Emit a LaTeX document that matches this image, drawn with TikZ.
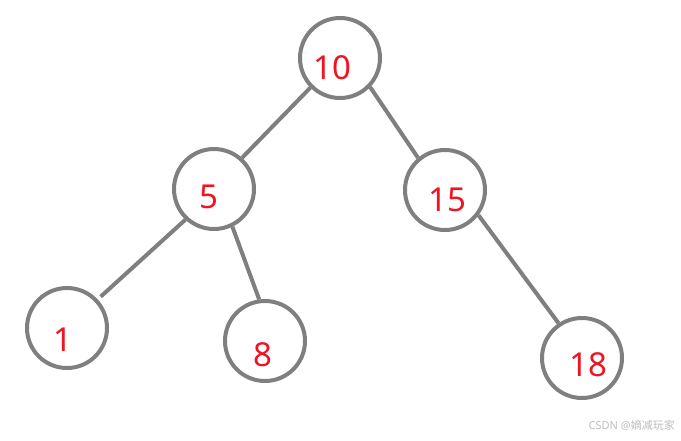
\documentclass[tikz,border=0pt]{standalone}
\usepackage{fontspec}
\setmainfont{Noto Sans}
\newfontfamily\cjk{Noto Sans CJK SC}
\usepackage{tikz}
\usetikzlibrary{positioning}
\definecolor{trGray}{HTML}{7F7F7F}
\definecolor{trRed}{HTML}{EE1422}
\definecolor{trMark}{HTML}{BDBDBD}
\tikzset{
  treenode/.style={
    draw=trGray, circle, line width=4pt, minimum size=80pt, inner sep=0pt
  },
  key/.style={font=\fontsize{33}{33}\selectfont, text=trRed, inner sep=0pt},
  branch/.style={line width=4pt, trGray},
  wmark/.style={font=\fontsize{11}{11}\selectfont, text=trMark, inner sep=0pt}
}
\begin{document}
\begin{tikzpicture}[x=1pt, y=-1pt]
  \useasboundingbox (0,0) rectangle (681,440);
  % nodes of the tree
  \node[treenode, label={[key, xshift=-8pt, yshift=-10pt]center:10}] (n10) at (340,58) {};
  \node[treenode, label={[key, xshift=-5pt, yshift=-8pt]center:5}] (n5) at (214,189) {};
  \node[treenode, label={[key, xshift=2pt, yshift=-10pt]center:15}] (n15) at (445,190) {};
  \node[treenode, label={[key, xshift=-4pt, yshift=-12pt]center:1}] (n1) at (67,328) {};
  \node[treenode, label={[key, xshift=-2pt, yshift=-14pt]center:8}] (n8) at (265,341) {};
  \node[treenode, label={[key, xshift=6pt, yshift=-7pt]center:18}] (n18) at (582,358) {};
  % branches
  \foreach \a/\b in {n10.-135/n5.48, n10.-44/n15.130, n5.-64/n8.98, n15.-37/n18.124}{
    \draw[branch] (\a) -- (\b);
  }
  \draw[branch, shorten >=4pt] (n5.-133) -- (n1.43);
  % watermark
  \node[wmark, anchor=east] (wm) at (675,425) {CSDN @{\cjk 嫡减玩家}};
\end{tikzpicture}
\end{document}
